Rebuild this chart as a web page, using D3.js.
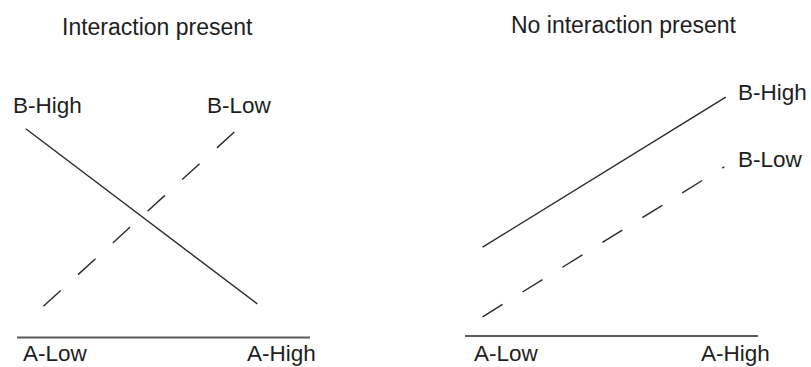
<!DOCTYPE html>
<html>
<head>
<meta charset="utf-8">
<script src="https://cdn.jsdelivr.net/npm/d3@7"></script>
<style>
  html, body { margin: 0; padding: 0; background: #fff; }
  svg text { font-family: "Liberation Sans", Arial, Helvetica, sans-serif; fill: #1e1e1e; }
</style>
</head>
<body>
<svg id="chart" width="811" height="367"></svg>
<script>
// Factor A levels along the x axis
const categories = ["A-Low", "A-High"];
const panelTitles = ["Interaction present", "No interaction present"];

// Left panel: mean response for each B level (x positions in axis units 0–10)
const leftHighX = [0.3, 8.2];
const leftHighY = [8.7, 1.4];
const leftLowX = [0.9, 7.45];
const leftLowY = [1.3, 8.6];

// Right panel: parallel lines
const rightHighX = [0.6, 8.9];
const rightHighY = [3.7, 9.95];
const rightLowX = [0.6, 8.85];
const rightLowY = [0.8, 7.05];

const seriesLabels = ["B-High", "B-Low"];

const svg = d3.select("#chart");

const panels = [
  {
    title: panelTitles[0], titleX: 62, titleY: 35,
    axisX0: 17, axisX1: 310, axisY: 337.5,
    high: { x: leftHighX, y: leftHighY }, low: { x: leftLowX, y: leftLowY },
    catX: [23, 247],
    highLabel: { x: 13, y: 113 }, lowLabel: { x: 207, y: 113 }
  },
  {
    title: panelTitles[1], titleX: 511, titleY: 33,
    axisX0: 465, axisX1: 758, axisY: 336,
    high: { x: rightHighX, y: rightHighY }, low: { x: rightLowX, y: rightLowY },
    catX: [474, 701],
    highLabel: { x: 738, y: 100 }, lowLabel: { x: 738, y: 167 }
  }
];

panels.forEach(p => {
  const g = svg.append("g");
  const x = d3.scaleLinear().domain([0, 10]).range([p.axisX0, p.axisX1]);
  const y = d3.scaleLinear().domain([0, 10]).range([p.axisY, p.axisY - 240]);

  const line = d3.line().x(d => x(d[0])).y(d => y(d[1]));

  // baseline axis
  g.append("line")
    .attr("x1", p.axisX0).attr("x2", p.axisX1)
    .attr("y1", p.axisY).attr("y2", p.axisY)
    .attr("stroke", "#5a5a5a").attr("stroke-width", 2);

  // B-High: solid
  g.append("path")
    .attr("d", line(d3.zip(p.high.x, p.high.y)))
    .attr("fill", "none").attr("stroke", "#2a2a2a").attr("stroke-width", 1.4);

  // B-Low: dashed
  g.append("path")
    .attr("d", line(d3.zip(p.low.x, p.low.y)))
    .attr("fill", "none").attr("stroke", "#2a2a2a").attr("stroke-width", 1.4)
    .attr("stroke-dasharray", "23.5,23.5");

  g.append("text")
    .attr("x", p.titleX).attr("y", p.titleY)
    .attr("font-size", 23)
    .text(p.title);

  g.append("text").attr("x", p.highLabel.x).attr("y", p.highLabel.y)
    .attr("font-size", 22.5).text(seriesLabels[0]);
  g.append("text").attr("x", p.lowLabel.x).attr("y", p.lowLabel.y)
    .attr("font-size", 22.5).text(seriesLabels[1]);

  categories.forEach((c, i) => {
    g.append("text").attr("x", p.catX[i]).attr("y", 361)
      .attr("font-size", 22.5).text(c);
  });
});
</script>
</body>
</html>
